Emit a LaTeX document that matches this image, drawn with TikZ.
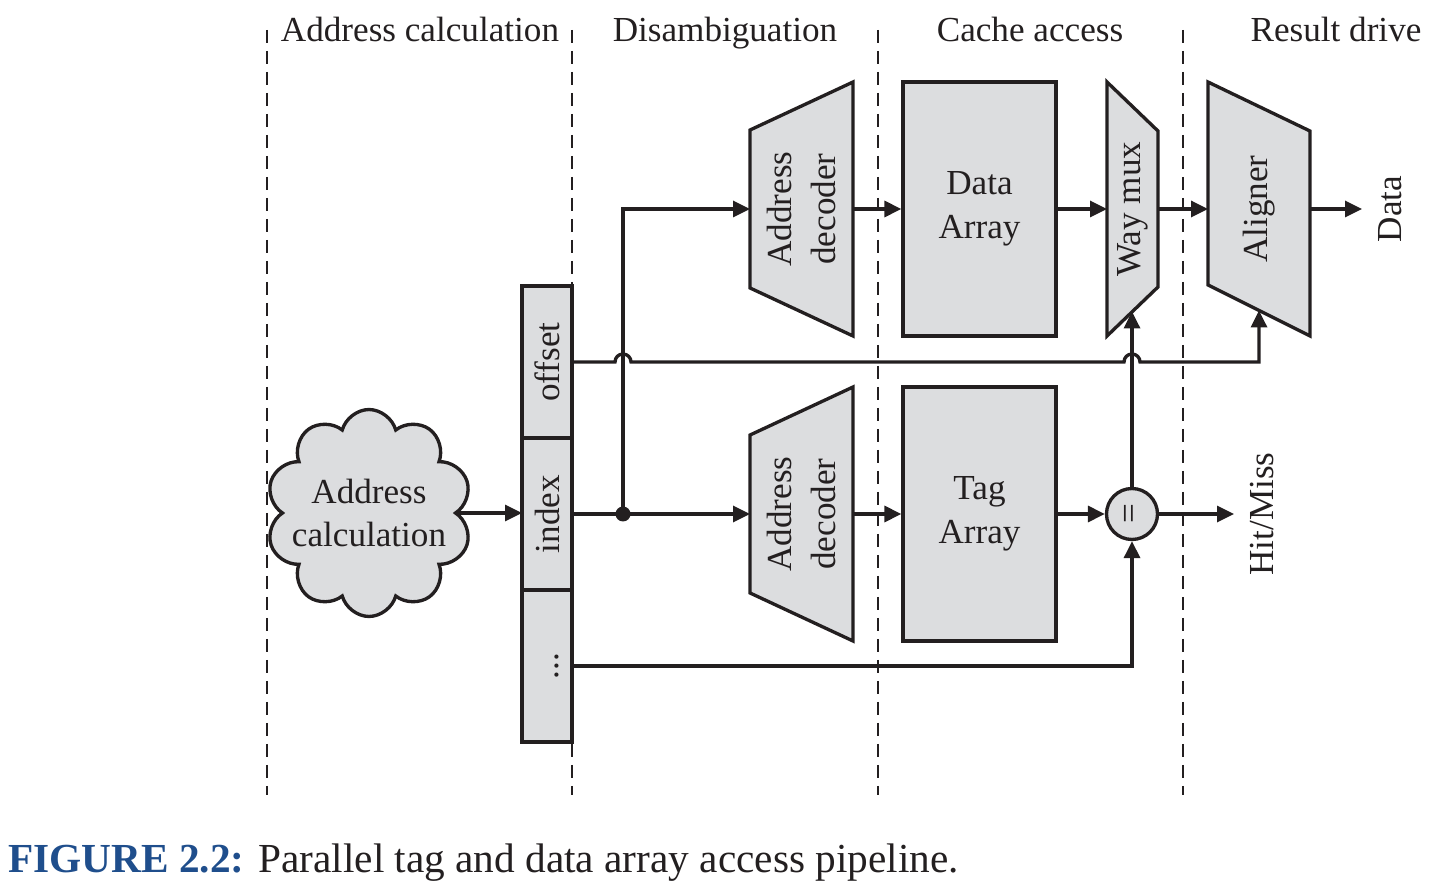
\documentclass[tikz,border=0pt]{standalone}
\usepackage{fontspec}
\setmainfont{Liberation Serif}
\usepackage{graphicx}
\usetikzlibrary{arrows.meta,shapes.symbols,calc}
\definecolor{ink}{HTML}{231F20}
\definecolor{blkgray}{HTML}{DCDDDF}
\definecolor{figblue}{HTML}{1F4E8C}
\tikzset{
  wire/.style={draw=ink, line width=1.9pt},
  sig/.style={wire, -{Triangle[length=0.34cm,width=0.32cm]}},
  stagesep/.style={draw=ink, line width=1.1pt, dash pattern=on 0.26cm off 0.16cm},
  blk/.style={draw=ink, fill=blkgray, line width=1.9pt},
  extent/.style={inner sep=0pt, outer sep=0pt},
  bitcell/.style={blk, extent, minimum width=1cm, minimum height=3.04cm},
  outlbl/.style={rotate=90, anchor=north, inner sep=9pt},
}
\begin{document}
\begin{tikzpicture}[x=0.02cm, y=-0.02cm, font=\fontsize{20}{25}\selectfont, text=ink]
\useasboundingbox (0,0) rectangle (1437,888);

% stage separators
\foreach \sx in {267,572,878,1183}
  \draw[stagesep] (\sx,30) -- (\sx,795);

\node[anchor=base] (h1) at (420,42) {Address calculation};
\node[anchor=base] (h2) at (725,42) {Disambiguation};
\node[anchor=base] (h3) at (1030,42) {Cache access};
\node[anchor=base] (h4) at (1336,42) {Result drive};

% address calculation
\node[cloud, cloud puffs=10, aspect=1, blk, minimum width=4.12cm, minimum height=4.14cm] (calc) at (369,513) {};
\node[align=center] (calc-t) at (calc) {Address\\calculation};

% address bits
\node[bitcell] (offs) at (547,362) {\rotatebox{90}{offset}};
\node[bitcell] (idx) at (547,514) {\rotatebox{90}{index}};
\node[bitcell] (dots) at (547,666) {\rotatebox{90}{\vphantom{d}...}};
\draw[sig] (calc.east) -- (calc.east -| idx.west);

% decoders
\node[extent, minimum width=2.06cm, minimum height=5.08cm] (tdec) at (801.5,209) {};
\draw[blk] ($(tdec.north west)+(0,48)$) -- (tdec.north east) -- (tdec.south east) -- ($(tdec.south west)+(0,-48)$) -- cycle;
\node[rotate=90, align=center] (tdec-t) at (tdec) {Address\\decoder};
\node[extent, minimum width=2.06cm, minimum height=5.08cm] (bdec) at (801.5,514) {};
\draw[blk] ($(bdec.north west)+(0,48)$) -- (bdec.north east) -- (bdec.south east) -- ($(bdec.south west)+(0,-48)$) -- cycle;
\node[rotate=90, align=center] (bdec-t) at (bdec) {Address\\decoder};

% arrays
\node[blk, minimum width=3.06cm, minimum height=5.08cm, align=center] (darr) at (979.5,209) {Data\\Array};
\node[blk, minimum width=3.06cm, minimum height=5.08cm, align=center] (tarr) at (979.5,514) {Tag\\Array};

% way mux and aligner
\node[extent, minimum width=1.02cm, minimum height=5.08cm] (wmux) at (1132.5,209) {};
\draw[blk] (wmux.north west) -- ($(wmux.north east)+(0,49)$) -- ($(wmux.south east)+(0,-49)$) -- (wmux.south west) -- cycle;
\node[rotate=90] (wmux-t) at (wmux) {Way mux};
\node[extent, minimum width=2.04cm, minimum height=5.08cm] (algn) at (1259,209) {};
\draw[blk] (algn.north west) -- ($(algn.north east)+(0,49)$) -- (algn.south east) -- ($(algn.south west)+(0,-51)$) -- cycle;
\node[rotate=90] (algn-t) at (algn) {Aligner};
\coordinate (wmux-in) at ($(wmux.south)+(0,-24.5)$);
\coordinate (algn-in) at ($($(algn.south west)+(0,-51)$)!0.5!(algn.south east)$);

% compare
\node[blk, circle, minimum size=1.02cm, inner sep=0pt] (cmp) at (1132,514) {\rotatebox{90}{=}};

\node[outlbl] (dout) at (1362,209) {Data};
\node[outlbl] (hm) at (1234,514) {Hit/Miss};

% wires
\coordinate (split) at (623,514);
\draw[sig] (idx.east) -- (bdec.west);
\draw[sig] (split) |- (tdec.west);
\fill[ink] (split) circle (0.15cm);
\draw[sig] (tdec.east) -- (darr.west);
\draw[sig] (bdec.east) -- (tarr.west);
\draw[sig] (darr.east) -- (wmux.west);
\draw[sig] (wmux.east) -- (algn.west);
\draw[sig] (algn.east) -- (dout.north);
\draw[sig] (tarr.east) -- (cmp.west);
\draw[sig] (cmp.east) -- (hm.north);
\draw[sig] (cmp.north) -- (cmp.north |- wmux-in);
\draw[sig] (offs.east) -- ($(offs.east -| split)+(-8,0)$) arc[start angle=180, end angle=0, radius=0.16cm]
  -- ($(offs.east -| cmp)+(-8,0)$) arc[start angle=180, end angle=0, radius=0.16cm]
  -- (offs.east -| algn-in) -- (algn-in);
\draw[sig] (dots.east) -- (dots.east -| cmp) -- (cmp.south);

\node[anchor=base west, inner sep=0pt, font=\fontsize{23.5}{28}\selectfont] (cap) at (8,872)
  {\textcolor{figblue}{\bfseries FIGURE 2.2:} Parallel tag and data array access pipeline.};
\end{tikzpicture}
\end{document}
